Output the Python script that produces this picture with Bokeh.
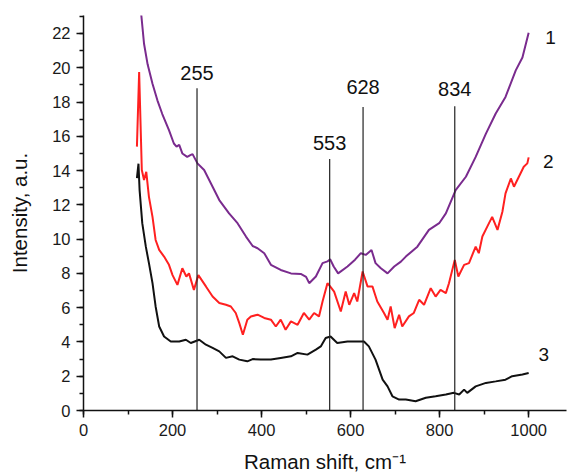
import math
from bokeh.plotting import figure
from bokeh.models import Range1d, SingleIntervalTicker
from bokeh.core.properties import value
from bokeh.embed import file_html
from bokeh.resources import INLINE

# ---- data ----
curve1 = [(129, 23.3), (136, 21.4), (144, 20.2), (155, 19.07), (166, 18.1), (177, 17.3),
          (192, 16.36), (203, 15.58), (209, 15.4), (215, 15.5), (222, 15.0), (233, 14.8),
          (240, 14.9), (245, 14.96), (256, 14.42), (271, 14.03), (290, 13.06), (305, 12.28),
          (327, 11.5), (346, 10.93), (365, 10.15), (380, 9.6), (391, 9.47), (406, 9.18),
          (421, 8.5), (443, 8.2), (466, 8.0), (488, 7.97), (500, 7.8), (507, 7.43),
          (522, 7.82), (537, 8.6), (548, 8.7), (554, 8.83), (562, 8.4), (572, 8.0),
          (593, 8.4), (610, 8.8), (623, 9.18), (634, 9.08), (647, 9.37), (656, 8.6),
          (668, 8.3), (683, 8.0), (698, 8.4), (713, 8.69), (724, 8.98), (750, 9.56),
          (776, 10.54), (799, 10.93), (814, 11.5), (836, 12.86), (859, 13.64), (881, 14.8),
          (904, 16.16), (926, 17.33), (948, 18.3), (971, 19.85), (986, 20.6), (1000, 22.05)]

curve2 = [(120, 15.4), (125, 19.75), (131, 14.03), (136, 13.45), (141, 13.93), (147, 12.47),
          (155, 11.3), (162, 9.95), (170, 9.37), (181, 8.98), (192, 8.5), (200, 7.9),
          (211, 7.33), (222, 8.3), (231, 7.82), (237, 8.0), (248, 7.04), (258, 7.9),
          (275, 7.24), (290, 6.65), (305, 6.27), (320, 6.17), (331, 6.07), (342, 5.69),
          (350, 5.1), (358, 4.42), (368, 5.3), (376, 5.49), (391, 5.59), (406, 5.4),
          (421, 5.3), (432, 4.9), (443, 5.3), (454, 4.71), (466, 5.2), (481, 5.0),
          (495, 5.69), (507, 5.3), (518, 5.69), (529, 5.49), (537, 6.36), (548, 7.43),
          (554, 7.24), (563, 6.94), (578, 5.78), (589, 6.94), (597, 6.17), (608, 6.85),
          (615, 6.36), (627, 8.11), (638, 7.24), (649, 7.24), (660, 6.36), (675, 5.69),
          (683, 5.3), (690, 6.07), (699, 4.81), (709, 5.59), (716, 4.9), (731, 5.49),
          (742, 5.69), (754, 6.46), (765, 6.17), (780, 7.14), (791, 6.65), (802, 7.04),
          (814, 6.85), (821, 7.43), (834, 8.79), (842, 7.82), (855, 8.5), (866, 8.6),
          (875, 9.18), (881, 9.56), (888, 9.18), (896, 10.15), (907, 10.73), (918, 11.3),
          (930, 10.54), (941, 11.6), (948, 12.67), (960, 13.54), (967, 13.06), (978, 13.64),
          (989, 14.22), (997, 14.42), (1000, 14.77)]

curve3 = [(120, 13.56), (123.5, 14.4), (126, 12.86), (132, 10.93), (140, 9.56), (147, 8.6),
          (155, 7.43), (162, 6.07), (170, 4.9), (181, 4.32), (196, 4.03), (215, 4.03),
          (230, 4.13), (241, 3.94), (260, 4.13), (275, 3.84), (290, 3.65), (305, 3.45),
          (320, 3.07), (335, 3.16), (350, 2.97), (368, 2.87), (380, 3.0), (398, 2.97),
          (421, 2.97), (443, 3.07), (466, 3.16), (481, 3.36), (503, 3.26), (522, 3.55),
          (533, 3.74), (544, 4.23), (555, 4.32), (570, 3.94), (593, 4.03), (615, 4.03),
          (630, 4.03), (641, 3.74), (656, 2.97), (672, 1.8), (683, 1.41), (694, 0.83),
          (709, 0.64), (724, 0.64), (746, 0.54), (769, 0.74), (791, 0.83), (814, 0.93),
          (832, 1.03), (844, 0.93), (855, 1.22), (862, 1.03), (881, 1.41), (904, 1.61),
          (926, 1.7), (948, 1.8), (963, 2.0), (986, 2.1), (1000, 2.19)]

peak_positions = [255, 553, 628, 834]
peak_line_tops = [18.8, 14.67, 17.71, 17.75]
peak_label_y = [19.7, 15.62, 18.88, 18.78]

curve_names = ["1", "2", "3"]
curve_name_x = [1049, 1044, 1034]
curve_name_y = [21.79, 14.51, 3.26]

x_ticks_interval = 200
y_ticks_interval = 2

FONT = "Liberation Sans"

p = figure(width=568, height=475, output_backend="svg", toolbar_location=None,
           x_range=Range1d(0, 1085), y_range=Range1d(0, 23.05),
           min_border_left=83, min_border_right=2, min_border_top=15, min_border_bottom=64)
p.outline_line_color = None
p.grid.visible = False
p.background_fill_color = "white"
p.border_fill_color = "white"

for ax, iv in ((p.xaxis[0], x_ticks_interval), (p.yaxis[0], y_ticks_interval)):
    ax.ticker = SingleIntervalTicker(interval=iv, num_minor_ticks=2)
    ax.major_tick_out = 7
    ax.major_tick_in = 0
    ax.minor_tick_out = 4
    ax.minor_tick_in = 0
    ax.axis_line_width = 1.5
    ax.axis_line_color = "#111111"
    ax.major_tick_line_color = "#111111"
    ax.minor_tick_line_color = "#111111"
    ax.major_tick_line_width = 1.5
    ax.minor_tick_line_width = 1.5
    ax.major_label_text_font = FONT
    ax.major_label_text_font_size = "16.5px"
    ax.major_label_text_color = "#1a1a1a"
    ax.major_label_standoff = 6
    ax.axis_label_text_font = FONT
    ax.axis_label_text_font_size = "20.5px"
    ax.axis_label_text_font_style = "normal"
    ax.axis_label_text_color = "#111111"

p.xaxis[0].axis_label = "Raman shift, cm\u207b\u00b9"
p.xaxis[0].axis_label_standoff = 11
p.yaxis[0].axis_label = "Intensity, a.u."
p.yaxis[0].axis_label_standoff = 18

colors = ["#7a2b8e", "#ff2020", "#111111"]
for pts, c in zip((curve1, curve2, curve3), colors):
    xs = [a for a, b in pts]
    ys = [b for a, b in pts]
    p.line(xs, ys, line_color=c, line_width=2)

p.segment(x0=peak_positions, y0=[0] * len(peak_positions), x1=peak_positions, y1=peak_line_tops,
          line_color="#222222", line_width=1.2)
p.text(x=peak_positions, y=peak_label_y, text=[str(v) for v in peak_positions],
       text_font=value(FONT), text_font_size="20px", text_align="center",
       text_baseline="middle", text_color="#111111")

p.text(x=curve_name_x, y=curve_name_y, text=curve_names, text_font=value(FONT),
       text_font_size="19px", text_align="center", text_baseline="middle",
       text_color="#111111")

open("out.html", "w").write(file_html(p, INLINE))
